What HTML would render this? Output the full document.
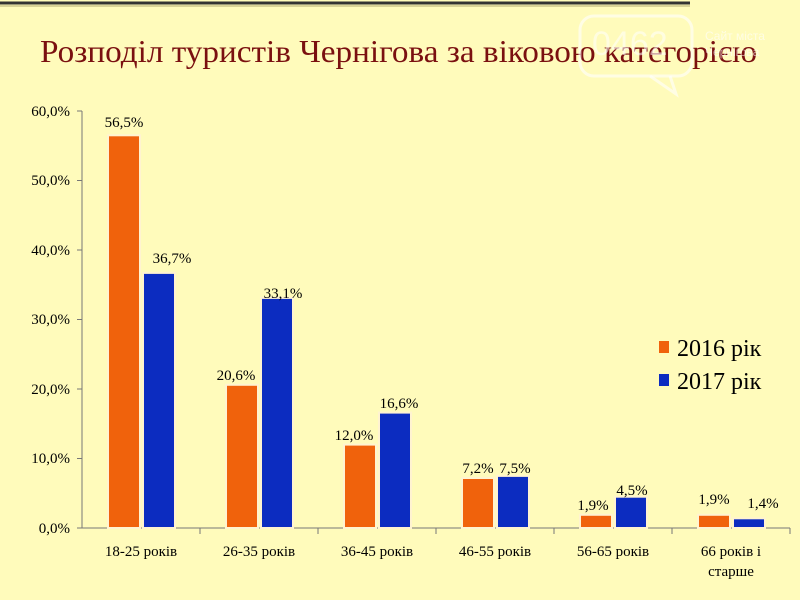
<!DOCTYPE html>
<html><head><meta charset="utf-8"><style>
html,body{margin:0;padding:0;background:#fffbbb;}
svg{display:block}
</style></head><body>
<svg width="800" height="600" xmlns="http://www.w3.org/2000/svg" font-family="Liberation Serif, serif">
<rect width="800" height="600" fill="#fffbbb"/>
<line x1="0" y1="3" x2="690" y2="3" stroke="#333" stroke-width="3"/>
<line x1="0" y1="6" x2="690" y2="6" stroke="#b0a870" stroke-width="1"/>
<text x="40" y="62" font-size="32" fill="#7a1010" textLength="717" lengthAdjust="spacingAndGlyphs">Розподіл туристів Чернігова за віковою категорією</text>
<g fill="none" stroke="#ffffff" stroke-opacity="0.6" stroke-width="3">
<rect x="580" y="16" width="112" height="60" rx="14"/>
<path d="M650 76 L676 94 L670 76"/>
</g>
<text x="592" y="55" font-size="34" font-family="Liberation Sans, sans-serif" fill="#fff" fill-opacity="0.55">0462</text>
<text x="705" y="40" font-size="12" font-family="Liberation Sans, sans-serif" fill="#fff" fill-opacity="0.6">Сайт міста</text>
<text x="705" y="56" font-size="12" font-family="Liberation Sans, sans-serif" fill="#fff" fill-opacity="0.6">Чернігова</text>
<g stroke="#777" stroke-width="1">
<line x1="82" y1="111" x2="82" y2="528"/>
<line x1="82" y1="528" x2="790" y2="528"/>
<line x1="77" y1="111" x2="82" y2="111"/><line x1="77" y1="180.5" x2="82" y2="180.5"/>
<line x1="77" y1="250" x2="82" y2="250"/><line x1="77" y1="319.5" x2="82" y2="319.5"/>
<line x1="77" y1="389" x2="82" y2="389"/><line x1="77" y1="458.5" x2="82" y2="458.5"/>
<line x1="77" y1="528" x2="82" y2="528"/>
<line x1="200" y1="528" x2="200" y2="534"/><line x1="318" y1="528" x2="318" y2="534"/>
<line x1="436" y1="528" x2="436" y2="534"/><line x1="554" y1="528" x2="554" y2="534"/>
<line x1="672" y1="528" x2="672" y2="534"/><line x1="790" y1="528" x2="790" y2="534"/>
</g>
<g font-size="15" fill="#000" text-anchor="end">
<text x="70" y="116">60,0%</text><text x="70" y="185">50,0%</text><text x="70" y="255">40,0%</text>
<text x="70" y="324">30,0%</text><text x="70" y="394">20,0%</text><text x="70" y="463">10,0%</text><text x="70" y="533">0,0%</text>
</g>
<g stroke="#fff3d0" stroke-width="2">
<rect x="108" y="135.3" width="32" height="392.7" fill="#f0620c"/>
<rect x="143" y="272.9" width="32" height="255.1" fill="#0c2cc0"/>
<rect x="226" y="384.8" width="32" height="143.2" fill="#f0620c"/>
<rect x="261" y="297.9" width="32" height="230.1" fill="#0c2cc0"/>
<rect x="344" y="444.6" width="32" height="83.4" fill="#f0620c"/>
<rect x="379" y="412.6" width="32" height="115.4" fill="#0c2cc0"/>
<rect x="462" y="478" width="32" height="50" fill="#f0620c"/>
<rect x="497" y="475.9" width="32" height="52.1" fill="#0c2cc0"/>
<rect x="580" y="514.8" width="32" height="13.2" fill="#f0620c"/>
<rect x="615" y="496.7" width="32" height="31.3" fill="#0c2cc0"/>
<rect x="698" y="514.8" width="32" height="13.2" fill="#f0620c"/>
<rect x="733" y="518.3" width="32" height="9.7" fill="#0c2cc0"/>
</g>
<g font-size="15" fill="#000" text-anchor="middle">
<text x="124" y="127">56,5%</text><text x="172" y="263">36,7%</text>
<text x="236" y="380">20,6%</text><text x="283" y="298">33,1%</text>
<text x="354" y="440">12,0%</text><text x="399" y="408">16,6%</text>
<text x="478" y="473">7,2%</text><text x="515" y="473">7,5%</text>
<text x="593" y="510">1,9%</text><text x="632" y="495">4,5%</text>
<text x="714" y="504">1,9%</text><text x="763" y="508">1,4%</text>
</g>
<g font-size="15" fill="#000" text-anchor="middle">
<text x="141" y="556">18-25 років</text><text x="259" y="556">26-35 років</text>
<text x="377" y="556">36-45 років</text><text x="495" y="556">46-55 років</text>
<text x="613" y="556">56-65 років</text><text x="731" y="556">66 років і</text>
<text x="731" y="576">старше</text>
</g>
<rect x="659" y="341" width="10" height="12" fill="#f0620c"/>
<text x="677" y="356" font-size="24">2016 рік</text>
<rect x="659" y="374" width="10" height="12" fill="#0c2cc0"/>
<text x="677" y="389" font-size="24">2017 рік</text>
</svg>
</body></html>
